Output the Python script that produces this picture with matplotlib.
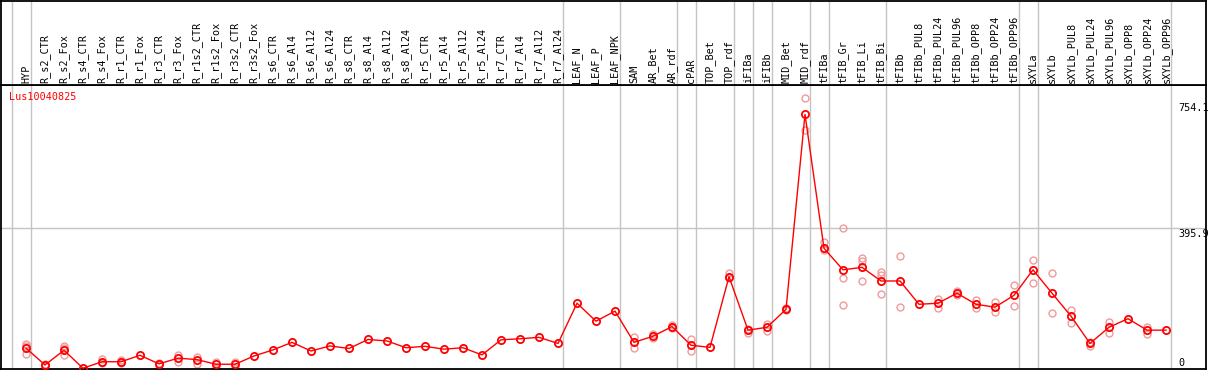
import matplotlib
matplotlib.use("Agg")
import matplotlib.pyplot as plt
import numpy as np

gene = "Lus10040825"

samples = [
    "HYP", "R_s2_CTR", "R_s2_Fox", "R_s4_CTR", "R_s4_Fox", "R_r1_CTR", "R_r1_Fox",
    "R_r3_CTR", "R_r3_Fox", "R_r1s2_CTR", "R_r1s2_Fox", "R_r3s2_CTR", "R_r3s2_Fox",
    "R_s6_CTR", "R_s6_Al4", "R_s6_Al12", "R_s6_Al24", "R_s8_CTR", "R_s8_Al4",
    "R_s8_Al12", "R_s8_Al24", "R_r5_CTR", "R_r5_Al4", "R_r5_Al12", "R_r5_Al24",
    "R_r7_CTR", "R_r7_Al4", "R_r7_Al12", "R_r7_Al24", "LEAF_N", "LEAF_P", "LEAF_NPK",
    "SAM", "AR_Bet", "AR_rdf", "cPAR", "TOP_Bet", "TOP_rdf", "iFIBa", "iFIBb",
    "MID_Bet", "MID_rdf", "tFIBa", "tFIB_Gr", "tFIB_Li", "tFIB_Bi", "tFIBb",
    "tFIBb_PUL8", "tFIBb_PUL24", "tFIBb_PUL96", "tFIBb_OPP8", "tFIBb_OPP24",
    "tFIBb_OPP96", "sXYLa", "sXYLb", "sXYLb_PUL8", "sXYLb_PUL24", "sXYLb_PUL96",
    "sXYLb_OPP8", "sXYLb_OPP24", "sXYLb_OPP96",
]

means = [
    61, 14, 55, 5, 23, 23, 41, 17, 33, 29, 16, 16, 39,
    56, 77, 53, 67, 60, 85, 81, 62, 66, 58, 62, 42,
    84, 87, 91, 74, 186, 136, 164,
    77, 94, 121, 69, 63, 260, 111, 119,
    169, 712, 339, 279, 286, 248, 248,
    183, 186, 214, 183, 175, 208,
    279, 214, 150, 74, 119, 143, 111, 111,
]

# replicate values, keyed by sample index
replicates = {
    0: [72, 66, 45], 1: [16, 12], 2: [67, 60, 43], 4: [30, 19], 5: [28, 19],
    7: [19, 14], 8: [42, 23], 9: [37, 17], 10: [22, 9], 11: [22, 9],
    32: [93, 60], 33: [99, 88], 34: [124, 118], 35: [85, 54], 37: [269, 256],
    38: [114, 102], 39: [128, 109], 40: [172, 166], 41: [757, 668],
    42: [357, 333], 43: [395, 255, 181], 44: [311, 303, 248],
    45: [274, 265, 211], 46: [318, 176], 48: [197, 174], 49: [219, 208],
    50: [195, 172], 51: [190, 162], 52: [237, 179], 53: [306, 243],
    54: [269, 158], 55: [167, 130], 56: [78, 68], 57: [135, 102], 59: [121, 100],
}

# gray separators sit just right of these sample indices
group_ends = [-1, 0, 28, 31, 34, 35, 37, 38, 39, 41, 42, 45, 52, 53, 60]

max_label = 754.1
mid_label = 395.9

W, H = 1209, 370
fig = plt.figure(figsize=(W / 100, H / 100), dpi=100)
mono = "DejaVu Sans Mono"
fs = 7.3

xlim = ((1 - 26) / 19, (1206 - 26) / 19)
px_per_unit = 0.359

ax = fig.add_axes([1 / W, 1 / H, 1205 / W, 284 / H])
top = fig.add_axes([1 / W, 285 / H, 1205 / W, 84.5 / H])

x = np.arange(len(samples))

for a in (ax, top):
    a.set_xlim(*xlim)
    a.set_xticks([])
    a.set_yticks([])
    for s in a.spines.values():
        s.set_color("black")
        s.set_linewidth(1.3)
    for g in group_ends:
        a.axvline(g + 0.24, color="#c4c4c4", lw=1, zorder=0)

ax.set_ylim((370 - 369) / px_per_unit, (370 - 85) / px_per_unit)
top.set_ylim(0, 1)

ax.axhline(mid_label, color="#c4c4c4", lw=1, zorder=0)

for i, vals in replicates.items():
    ax.plot([i] * len(vals), vals, "o", ms=5, mfc="none", mec="#f09a9a",
            mew=1.0, clip_on=False, zorder=2)

ax.plot(x, means, "-", color="red", lw=1, zorder=3)
ax.plot(x, means, "o", ms=5.2, mfc="none", mec="red", mew=1.3,
        clip_on=False, zorder=4)

for i, name in enumerate(samples):
    top.text(i, 0.025, name, rotation=90, ha="center", va="bottom",
             fontsize=fs, family=mono, color="black")

ax.text(8 / 1205, 0.958, gene, transform=ax.transAxes, ha="left",
        va="center", fontsize=fs, family=mono, color="red")

rx = (1178 - 26) / 19
ax.text(rx, max_label - 10, f"{max_label}", ha="left", va="top",
        fontsize=fs, family=mono)
ax.text(rx, mid_label - 2, f"{mid_label}", ha="left", va="top",
        fontsize=fs, family=mono)
ax.text(rx, 6, "0", ha="left", va="bottom", fontsize=fs, family=mono)

fig.savefig("out.png", dpi=100)
